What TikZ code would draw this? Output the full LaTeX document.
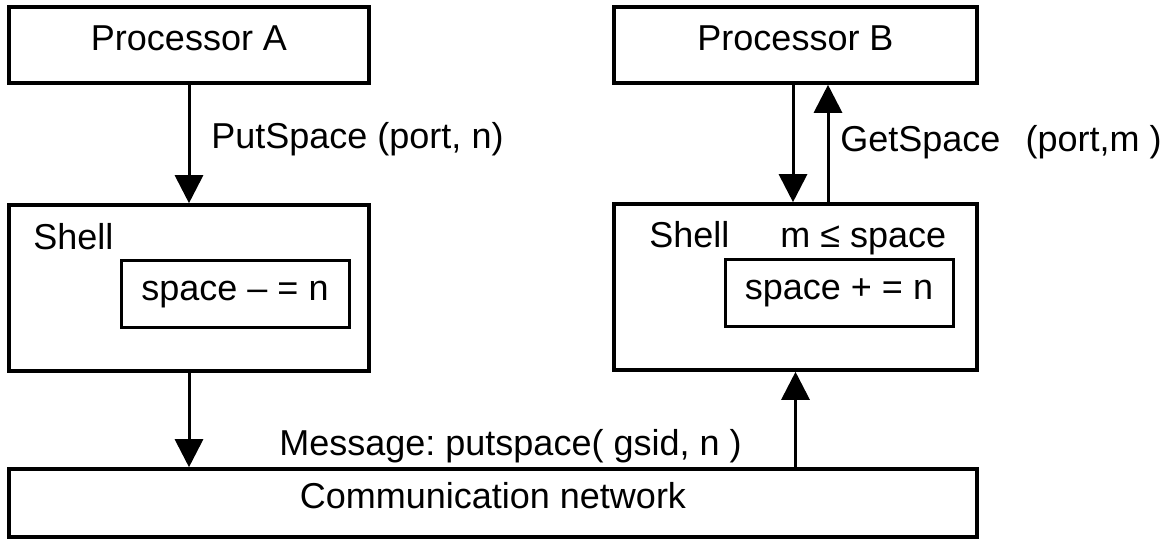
\documentclass[tikz,border=0pt]{standalone}
\usepackage{fontspec}
\setmainfont{Liberation Sans}
\usetikzlibrary{arrows.meta,calc}
\frenchspacing

\tikzset{
  box/.style={draw,line width=1.8pt,inner sep=0pt,text height=0.76em,text depth=0.21em},
  inbox/.style={draw,line width=1.5pt,inner sep=0pt,text height=0.78em,text depth=0.21em,
    minimum width=114pt,minimum height=33.5pt},
  lbl/.style={anchor=base west,inner sep=0pt},
  call/.style={line width=1.5pt,-{Triangle[length=14pt,width=14pt]}},
}

\begin{document}
\begin{tikzpicture}[x=0.5pt,y=-0.5pt,font=\fontsize{18}{22}\selectfont]
  \useasboundingbox (0,0) rectangle (1166,539);

  \node[box,minimum width=180pt,minimum height=38pt] (procA) at (189,45) {Processor A};
  \node[box,minimum width=181.5pt,minimum height=38pt] (procB) at (795.5,45) {Processor B};

  \node[box,minimum width=180pt,minimum height=83pt] (shellA) at (189,288) {};
  \node[box,minimum width=181.5pt,minimum height=83pt] (shellB) at (795.5,287) {};
  \node[lbl] (shellAname) at (33,250) {Shell};
  \node[lbl] (shellBname) at (649,248) {Shell};
  \node[inbox] (spaceA) at (235,294.5) {space -- = n};
  \node[inbox] (spaceB) at (839,293.5) {space + = n};
  \node[lbl] (check) at (780,248) {m ≤ space};

  \node[box,minimum width=484pt,minimum height=34pt] (net) at (493,503) {Communication network};

  \draw[call] (procA.south) -- (procA.south |- shellA.north);
  \node[lbl] (putA) at (211,149) {PutSpace (port, n)};
  \draw[call] ([xshift=-1.25pt]procB.south) -- ([xshift=-1.25pt]procB.south |- shellB.north);
  \draw[call] ([xshift=16.25pt]shellB.north) -- ([xshift=16.25pt]shellB.north |- procB.south);
  \node[lbl] (getB) at (840,152) {GetSpace\hspace{0.7em}(port,m )};

  \draw[call] (shellA.south) -- (shellA.south |- net.north);
  \draw[call] (shellB.south |- net.north) -- (shellB.south);
  \node[lbl] (msg) at (279,455) {Message: putspace( gsid, n )};
\end{tikzpicture}
\end{document}
